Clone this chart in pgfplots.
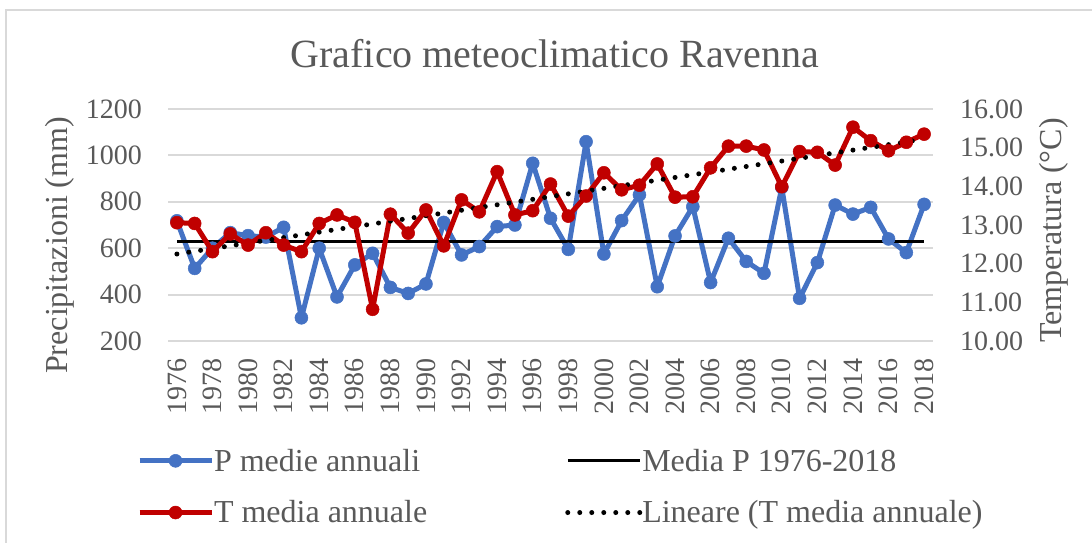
\documentclass[border=0pt]{standalone}
\usepackage{pgfplots}
\pgfplotsset{compat=1.18}
\usepackage{fontspec}
\setmainfont{Liberation Serif}
\definecolor{textc}{HTML}{595959}
\definecolor{gridc}{HTML}{D9D9D9}
\definecolor{pblue}{HTML}{4472C4}
\definecolor{tred}{HTML}{C00000}
\pgfplotsset{
  Pstyle/.style={color=pblue, line width=5bp, line join=round, mark=*, mark size=6.5bp, mark options={solid, line width=0.5bp, fill=pblue}},
  Tstyle/.style={color=tred, line width=5bp, line join=round, mark=*, mark size=6.5bp, mark options={solid, line width=0.5bp, fill=tred}},
  Mstyle/.style={color=black, line width=3bp},
  Lstyle/.style={color=black, line width=5bp, line cap=round, dash pattern=on 0bp off 12bp},
  common/.style={
    at={(168bp,202bp)}, anchor=south west, scale only axis,
    width=765bp, height=232bp, clip=false,
    xmin=1975.5, xmax=2018.5,
    axis line style={draw=none}, major tick length=0pt,
    /pgf/number format/assume math mode=true,
    /pgf/number format/set thousands separator={},
    ticklabel style={font=\fontsize{28bp}{33bp}\selectfont, text=textc, inner sep=0pt},
    label style={font=\fontsize{32bp}{38bp}\selectfont, text=textc},
  }
}
\pgfplotstableread{
year P T
1976 718 13.06
1977 513 13.04
1978 600 12.31
1979 667 12.77
1980 654 12.48
1981 648 12.80
1982 690 12.48
1983 300 12.31
1984 600 13.04
1985 390 13.26
1986 528 13.07
1987 578 10.82
1988 431 13.28
1989 405 12.79
1990 446 13.39
1991 711 12.46
1992 571 13.65
1993 607 13.34
1994 693 14.38
1995 700 13.26
1996 966 13.37
1997 729 14.06
1998 595 13.23
1999 1059 13.75
2000 575 14.35
2001 719 13.91
2002 830 14.03
2003 434 14.58
2004 653 13.72
2005 779 13.73
2006 452 14.48
2007 643 15.04
2008 543 15.04
2009 492 14.94
2010 862 13.99
2011 384 14.90
2012 538 14.88
2013 786 14.55
2014 747 15.53
2015 776 15.18
2016 640 14.92
2017 581 15.14
2018 789 15.35
}\datatable
\begin{document}
\begin{tikzpicture}
\useasboundingbox (0,0) rectangle (1092bp,543bp);
\fill[white] (0,0) rectangle (1092bp,543bp);
\draw[gridc, line width=2bp] (6bp,0bp) -- (6bp,533bp) -- (1092bp,533bp);
\node[anchor=base, font=\fontsize{40bp}{48bp}\selectfont, text=textc] at (555bp,475bp) {Grafico meteoclimatico Ravenna};
\begin{axis}[common,
  ymin=200, ymax=1200, ytick={200,400,...,1200},
  xtick={1976,1978,...,2018},
  ymajorgrids, grid style={gridc, line width=2bp},
  x tick label style={rotate=90, anchor=east},
  xticklabel shift=17bp,
  yticklabel shift=26bp,
  ylabel={Precipitazioni (mm)},
  ylabel style={at={(axis description cs:-0.1412,0.412)}, anchor=center},
]
\addplot[Pstyle] table[x=year, y=P] {\datatable};
\addplot[Mstyle] coordinates {(1976,627) (2018,627)};
\end{axis}
\begin{axis}[common,
  ymin=10, ymax=16, ytick={10,11,...,16},
  axis x line=none, axis y line*=right,
  yticklabel shift=27bp,
  y tick label style={/pgf/number format/fixed, /pgf/number format/fixed zerofill, /pgf/number format/precision=2},
  ylabel={Temperatura (°C)},
  ylabel style={at={(axis description cs:1.1582,0.476)}, anchor=center},
  legend columns=2,
  legend cell align=left,
  legend image code/.code={\draw[mark repeat=2,mark phase=2,#1] plot coordinates {(0bp,0bp) (36bp,0bp) (72bp,0bp)};},
  legend style={at={(axis description cs:-0.0405,-0.4655)}, anchor=north west,
    draw=none, fill=none, inner sep=0pt, outer sep=0pt,
    font=\fontsize{32bp}{38bp}\selectfont, text=textc,
    row sep=28bp,
    nodes={inner sep=0pt},
    /tikz/every even column/.append style={column sep=138bp}},
]
\addlegendimage{Pstyle}
\addlegendentry{P medie annuali}
\addlegendimage{Mstyle}
\addlegendentry{Media P 1976-2018}
\addplot[Tstyle] table[x=year, y=T] {\datatable};
\addlegendentry{T media annuale}
\addplot[Lstyle] coordinates {(1976,12.25) (2018,15.22)};
\addlegendentry{Lineare (T media annuale)}
\end{axis}
\end{tikzpicture}
\end{document}
